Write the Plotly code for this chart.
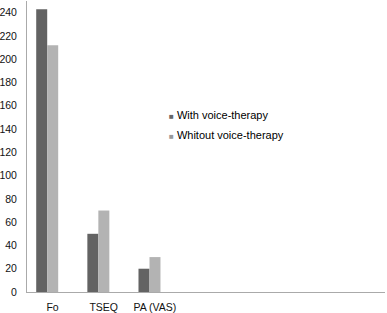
import plotly.graph_objects as go

categories = ["Fo", "TSEQ", "PA (VAS)"]
series_names = ["With voice-therapy", "Whitout voice-therapy"]
with_therapy = [243, 50, 20]
without_therapy = [212, 70, 30]
y_ticks = [0, 20, 40, 60, 80, 100, 120, 140, 160, 180, 200, 220, 240]
n_slots = 7  # category slots along the x axis (only first three labelled)

colors = ["#636363", "#b3b3b3"]
FONT = "Liberation Sans"

x_pos = list(range(len(categories)))

fig = go.Figure()
fig.add_trace(go.Bar(x=x_pos, y=with_therapy, name=series_names[0],
                     marker=dict(color=colors[0], line=dict(width=0)),
                     width=0.215, offset=-0.32, showlegend=False))
fig.add_trace(go.Bar(x=x_pos, y=without_therapy, name=series_names[1],
                     marker=dict(color=colors[1], line=dict(width=0)),
                     width=0.215, offset=-0.105, showlegend=False))

legend_swatch = ["#666666", "#999999"]
for i, (c, n) in enumerate(zip(legend_swatch, series_names)):
    fig.add_annotation(xref="paper", yref="paper", x=(167 - 27) / 358,
                       y=(292 - 115 - 20 * i) / 291,
                       xanchor="left", yanchor="middle", align="left", showarrow=False,
                       text=f'<span style="color:{c};font-size:8px">■</span> {n}',
                       font=dict(family=FONT, size=11, color="#000"))

fig.update_layout(
    width=387, height=313,
    margin=dict(l=27, r=2, t=1, b=21, autoexpand=False),
    paper_bgcolor="white", plot_bgcolor="white",
    barmode="overlay",
    showlegend=False,
    font=dict(family=FONT, size=10.5, color="#111"),
)
fig.update_xaxes(range=[-0.5, n_slots - 0.5], tickmode="array", tickvals=x_pos,
                 ticktext=categories, showgrid=False, zeroline=False,
                 showline=True, linecolor="#aaaaaa", linewidth=1,
                 ticks="outside", ticklen=5, tickcolor="rgba(0,0,0,0)",
                 automargin=False)
fig.update_yaxes(range=[0, 250], tickmode="array", tickvals=y_ticks,
                 showgrid=False, zeroline=False,
                 showline=True, linecolor="#aaaaaa", linewidth=1,
                 ticks="outside", ticklen=7, tickcolor="rgba(0,0,0,0)",
                 automargin=False)

fig.write_html("out.html", config={"displayModeBar": False},
               post_script="document.body.style.margin='0';document.body.style.overflow='hidden';")
